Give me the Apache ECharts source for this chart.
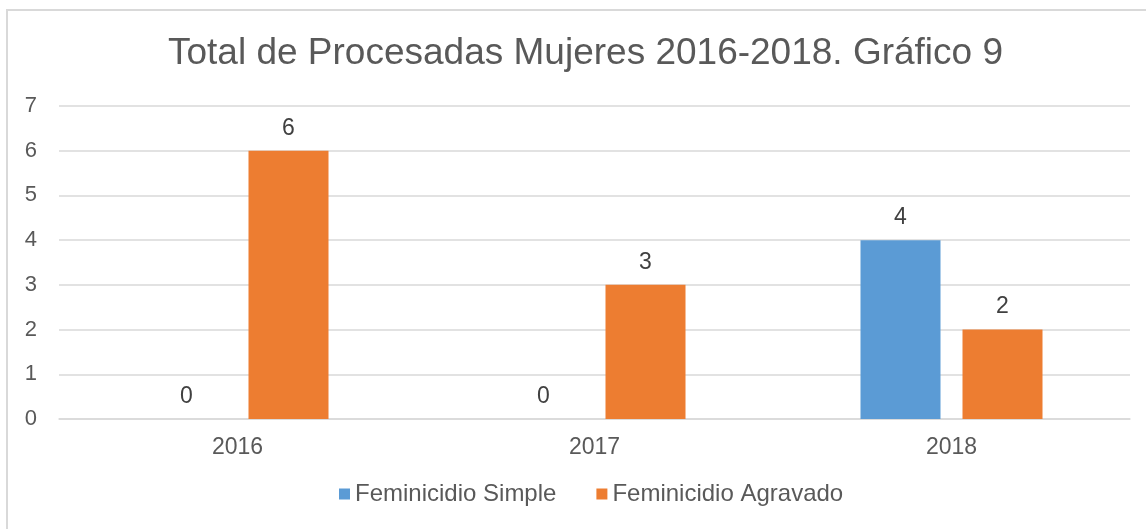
<!DOCTYPE html>
<html>
<head>
<meta charset="utf-8">
<script src="https://cdn.jsdelivr.net/npm/echarts@6/dist/echarts.min.js"></script>
<style>
  html, body { margin: 0; padding: 0; background: #fff; }
  #chart { width: 1146px; height: 529px; }
</style>
</head>
<body>
<div id="chart"></div>
<script>
// datos del gráfico
var years = ['2016', '2017', '2018'];
var simple = [0, 0, 4];
var agravado = [6, 3, 2];
var yTicks = [0, 1, 2, 3, 4, 5, 6, 7];

;(function (window) {

    initChart();

    function initChart() {
        var chart = echarts.init(document.getElementById('chart'));
        var font = 'Liberation Sans, Arial, sans-serif';

        var options = {
            backgroundColor: '#fff',
            animation: false,
            title: {
                text: 'Total de Procesadas Mujeres 2016-2018. Gráfico 9',
                left: 163,
                top: 30,
                textStyle: { fontFamily: font, fontSize: 37, fontWeight: 'normal', color: '#595959' }
            },
            legend: {
                bottom: 18,
                left: 334,
                itemWidth: 11,
                itemHeight: 11,
                itemGap: 40,
                icon: 'rect',
                textStyle: { fontFamily: font, fontSize: 24, color: '#595959' },
                data: ['Feminicidio Simple', 'Feminicidio Agravado']
            },
            grid: { left: 59, right: 16, top: 106, bottom: 110 },
            xAxis: {
                type: 'category',
                data: years,
                axisTick: { show: false },
                axisLine: { lineStyle: { color: '#d9d9d9', width: 1.5 } },
                axisLabel: { fontFamily: font, fontSize: 23, color: '#595959', margin: 17 }
            },
            yAxis: {
                type: 'value',
                min: yTicks[0],
                max: yTicks[yTicks.length - 1],
                interval: 1,
                axisLine: { show: false },
                axisTick: { show: false },
                splitLine: { lineStyle: { color: '#d9d9d9', width: 1.5 } },
                axisLabel: { fontFamily: font, fontSize: 22, color: '#595959', margin: 22 }
            },
            series: [{
                name: 'Feminicidio Simple',
                type: 'bar',
                data: simple,
                barWidth: 80,
                barGap: '27.5%',
                itemStyle: { color: '#5b9bd5' },
                label: { show: true, position: 'top', distance: 11, fontFamily: font, fontSize: 23, color: '#404040' }
            }, {
                name: 'Feminicidio Agravado',
                type: 'bar',
                data: agravado,
                barWidth: 80,
                itemStyle: { color: '#ed7d31' },
                label: { show: true, position: 'top', distance: 11, fontFamily: font, fontSize: 23, color: '#404040' }
            }],
            graphic: [{
                type: 'polyline',
                silent: true,
                shape: { points: [[7, 529], [7, 10], [1146, 10]] },
                style: { stroke: '#d9d9d9', lineWidth: 2, fill: null }
            }]
        };

        chart.setOption(options);
    }

}(window));
</script>
</body>
</html>
